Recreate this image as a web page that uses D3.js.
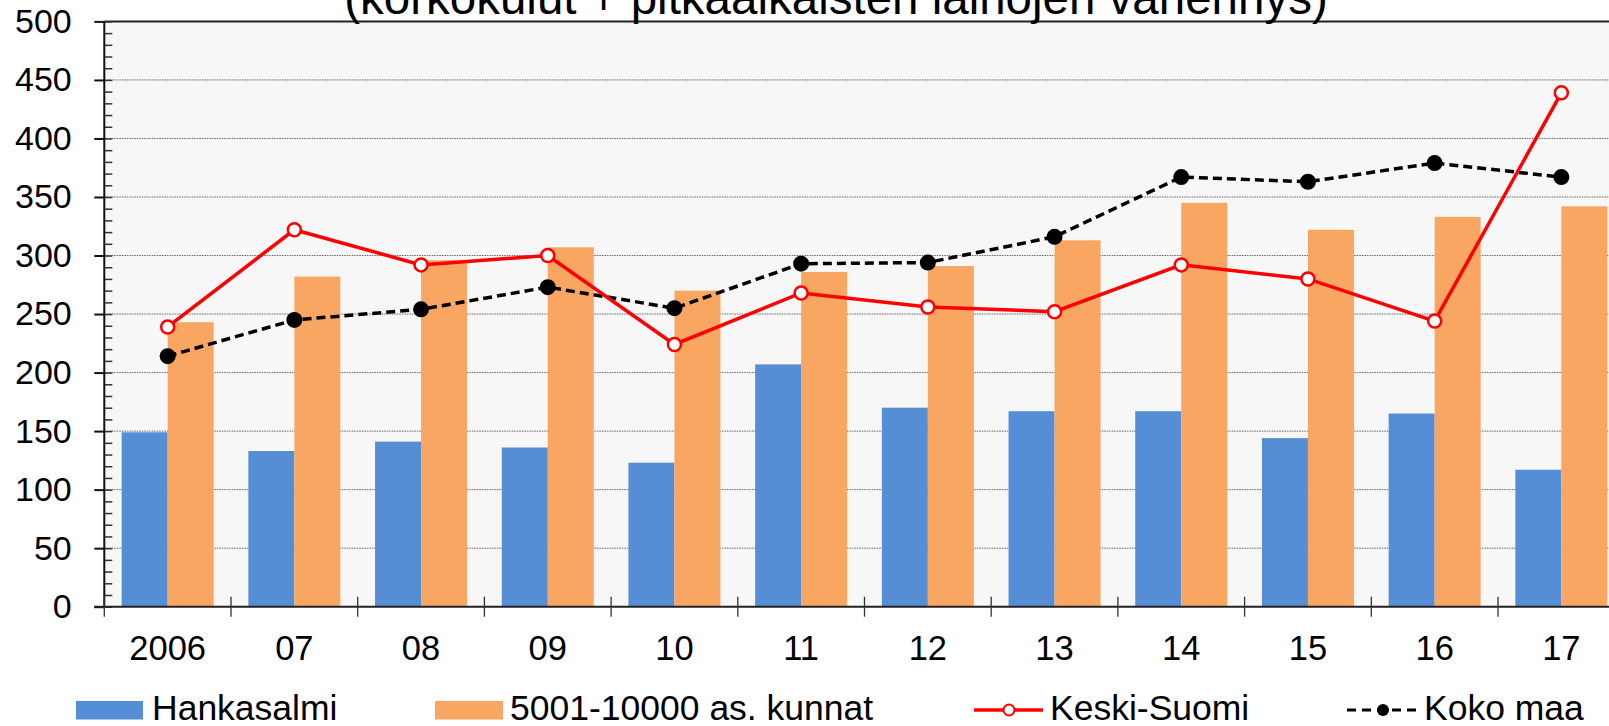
<!DOCTYPE html>
<html>
<script src="https://d3js.org/d3.v7.min.js"></script>
<style>
  body, html { margin: 0; padding: 0; background: #fff; }
  svg { display: block; font-family: "Liberation Sans", Arial, sans-serif; }
</style>
<body>
<svg width="1609" height="726"></svg>
<script>
  // data
  var years = ['2006', '07', '08', '09', '10', '11', '12', '13', '14', '15', '16', '17'];
  var hankasalmi = [149, 133, 141, 136, 123, 207, 170, 167, 167, 144, 165, 117];
  var kunnat = [243, 282, 296, 307, 270, 286, 291, 313, 345, 322, 333, 342];
  var keskiSuomi = [239, 322, 292, 300, 224, 268, 256, 252, 292, 280, 244, 439];
  var kokoMaa = [214, 245, 254, 273, 255, 293, 294, 316, 367, 363, 379, 367];
  var yTicks = [0, 50, 100, 150, 200, 250, 300, 350, 400, 450, 500];

  var blue = '#558ed5', orange = '#f8a662', red = '#ff0000';

  // plot frame (right side runs past the window edge, as in the original)
  var plotLeft = 104.3, plotTop = 21.4, plotBottom = 606.7, step = 126.7, W = 1609;

  var svg = d3.select('svg');

  var x = d3.scaleBand().domain(years)
      .range([plotLeft, plotLeft + step * years.length])
      .paddingInner(0.274).paddingOuter(0.137);
  var xs = d3.scaleBand().domain(['h', 'k']).range([0, x.bandwidth()]);
  var y = d3.scaleLinear().domain([0, 500]).range([plotBottom, plotTop]);

  // plot background
  svg.append('rect')
      .attr('x', plotLeft).attr('y', plotTop)
      .attr('width', W - plotLeft).attr('height', plotBottom - plotTop)
      .attr('fill', '#f7f7f7');

  // grid lines
  svg.append('g').selectAll('line')
      .data(yTicks.filter(function(d) { return d > 0 && d < 500; }))
      .join('line')
      .attr('x1', plotLeft).attr('x2', W)
      .attr('y1', function(d) { return y(d); }).attr('y2', function(d) { return y(d); })
      .attr('stroke', '#666').attr('stroke-width', 1).attr('stroke-dasharray', '1.5,1');

  // top border
  svg.append('line')
      .attr('x1', plotLeft).attr('x2', W).attr('y1', plotTop).attr('y2', plotTop)
      .attr('stroke', '#222').attr('stroke-width', 2);

  // bars
  var groups = svg.append('g').selectAll('g')
      .data(years)
      .join('g')
      .attr('transform', function(d) { return 'translate(' + x(d) + ',0)'; });

  groups.append('rect')
      .attr('x', xs('h')).attr('width', xs.bandwidth())
      .attr('y', function(d, i) { return y(hankasalmi[i]); })
      .attr('height', function(d, i) { return plotBottom - y(hankasalmi[i]); })
      .attr('fill', blue);

  groups.append('rect')
      .attr('x', xs('k')).attr('width', xs.bandwidth())
      .attr('y', function(d, i) { return y(kunnat[i]); })
      .attr('height', function(d, i) { return plotBottom - y(kunnat[i]); })
      .attr('fill', orange);

  // minor y ticks (inside)
  var yMinor = d3.axisRight(y).tickValues(d3.range(0, 501, 10)).tickSize(8).tickFormat('');
  var gMinor = svg.append('g').attr('transform', 'translate(' + plotLeft + ',0)').call(yMinor);
  gMinor.select('.domain').remove();
  gMinor.selectAll('line').attr('stroke', '#333').attr('stroke-width', 1.5);

  // y axis
  var yAxis = d3.axisLeft(y).tickValues(yTicks).tickSize(10).tickPadding(22.6);
  var gy = svg.append('g').attr('transform', 'translate(' + plotLeft + ',0)').call(yAxis);
  gy.select('.domain').remove();
  gy.selectAll('line').attr('stroke', '#111').attr('stroke-width', 2);
  gy.selectAll('text').attr('font-size', 34).attr('fill', '#000')
      .attr('font-family', '"Liberation Sans", Arial, sans-serif');
  svg.append('line')
      .attr('x1', plotLeft).attr('x2', plotLeft).attr('y1', plotTop).attr('y2', plotBottom + 1)
      .attr('stroke', '#111').attr('stroke-width', 2);

  // x axis line, category ticks and labels
  svg.append('line')
      .attr('x1', plotLeft - 10).attr('x2', W).attr('y1', plotBottom).attr('y2', plotBottom)
      .attr('stroke', '#222').attr('stroke-width', 2);

  var xb = d3.scaleLinear().domain([0, years.length]).range([plotLeft, plotLeft + step * years.length]);
  svg.append('g').selectAll('line')
      .data(d3.range(0, years.length + 1))
      .join('line')
      .attr('x1', function(d) { return xb(d); }).attr('x2', function(d) { return xb(d); })
      .attr('y1', plotBottom - 10).attr('y2', plotBottom + 10)
      .attr('stroke', '#333').attr('stroke-width', 1.3);

  var xAxis = d3.axisBottom(x).tickSize(0).tickPadding(0);
  var gx = svg.append('g').attr('transform', 'translate(0,' + plotBottom + ')').call(xAxis);
  gx.select('.domain').remove();
  gx.selectAll('text').attr('font-size', 34.5).attr('fill', '#000')
      .attr('font-family', '"Liberation Sans", Arial, sans-serif')
      .attr('dy', null).attr('y', 53.5);

  // lines
  var cx = function(d, i) { return x(years[i]) + x.bandwidth() / 2; };
  var line = d3.line().x(cx).y(function(d) { return y(d); });

  svg.append('path').datum(kokoMaa)
      .attr('d', line).attr('fill', 'none')
      .attr('stroke', '#000').attr('stroke-width', 3.5).attr('stroke-dasharray', '9,5');
  svg.append('g').selectAll('circle')
      .data(kokoMaa).join('circle')
      .attr('cx', cx).attr('cy', function(d) { return y(d); })
      .attr('r', 8).attr('fill', '#000');

  svg.append('path').datum(keskiSuomi)
      .attr('d', line).attr('fill', 'none')
      .attr('stroke', red).attr('stroke-width', 3.5);
  svg.append('g').selectAll('circle')
      .data(keskiSuomi).join('circle')
      .attr('cx', cx).attr('cy', function(d) { return y(d); })
      .attr('r', 6.5).attr('fill', '#fff').attr('stroke', red).attr('stroke-width', 2.5);

  // title (only the lower line is visible)
  svg.append('text')
      .attr('x', 836).attr('y', 13.5)
      .attr('text-anchor', 'middle')
      .attr('font-size', 47.5).attr('fill', '#000')
      .text('(korkokulut + pitkäaikaisten lainojen vähennys)');

  // legend
  var legend = svg.append('g').attr('font-size', 35.5).attr('fill', '#000');
  legend.append('rect').attr('x', 76).attr('y', 701).attr('width', 67).attr('height', 18.5).attr('fill', blue);
  legend.append('text').attr('x', 152).attr('y', 720).text('Hankasalmi');
  legend.append('rect').attr('x', 435).attr('y', 701).attr('width', 68).attr('height', 18.5).attr('fill', orange);
  legend.append('text').attr('x', 510).attr('y', 720).text('5001-10000 as. kunnat');

  legend.append('line').attr('x1', 974).attr('x2', 1043).attr('y1', 710).attr('y2', 710)
      .attr('stroke', red).attr('stroke-width', 3.5);
  legend.append('circle').attr('cx', 1009).attr('cy', 710).attr('r', 5.5)
      .attr('fill', '#fff').attr('stroke', red).attr('stroke-width', 2);
  legend.append('text').attr('x', 1050).attr('y', 720).text('Keski-Suomi');

  legend.append('line').attr('x1', 1347).attr('x2', 1418).attr('y1', 710).attr('y2', 710)
      .attr('stroke', '#000').attr('stroke-width', 3).attr('stroke-dasharray', '9,6');
  legend.append('circle').attr('cx', 1383).attr('cy', 710).attr('r', 6).attr('fill', '#000');
  legend.append('text').attr('x', 1424).attr('y', 720).text('Koko maa');
</script>
</body>
</html>
